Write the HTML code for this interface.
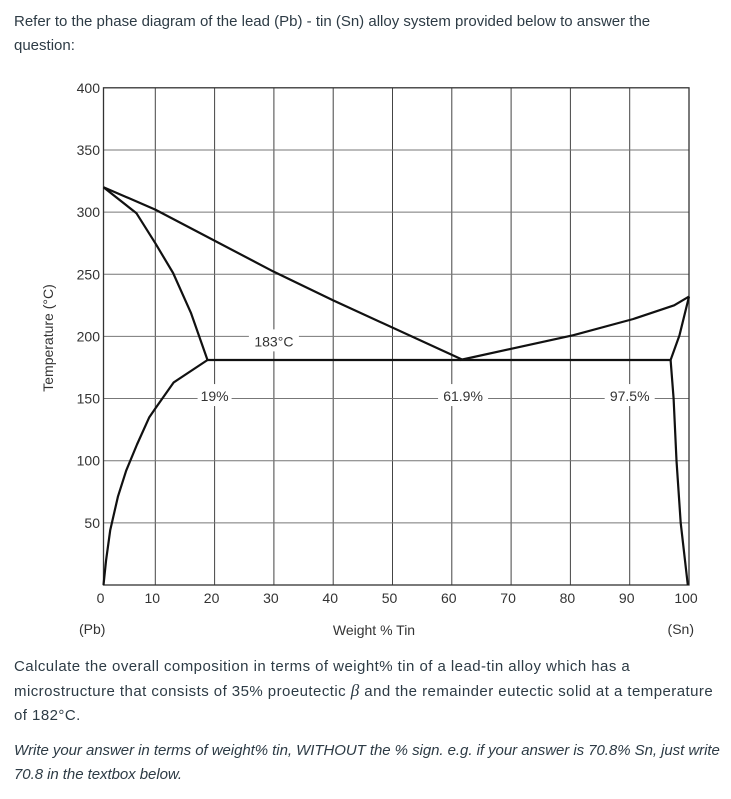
<!DOCTYPE html>
<html><head><meta charset="utf-8"><style>
body{margin:0;background:#fff;width:731px;height:799px;overflow:hidden;font-family:"Liberation Sans",sans-serif;color:#2d3b45;}
.p{position:absolute;left:14px;font-size:15px;line-height:24px;margin:0;white-space:nowrap;}
svg{position:absolute;left:0;top:0}
</style></head><body>
<p class="p" style="top:10px">Refer to the phase diagram of the lead (Pb) - tin (Sn) alloy system provided below to answer the<br>question:</p>
<svg id="chart" width="731" height="650"></svg>
<p class="p" style="top:655px;letter-spacing:0.45px">Calculate the overall composition in terms of weight% tin of a lead-tin alloy which has a<br>microstructure that consists of 35% proeutectic <i style="font-family:'Liberation Serif',serif;font-size:17px">β</i> and the remainder eutectic solid at a temperature<br>of 182°C.</p>
<p class="p" style="top:739px;font-style:italic;letter-spacing:-0.05px">Write your answer in terms of weight% tin, WITHOUT the % sign. e.g. if your answer is 70.8% Sn, just write<br>70.8 in the textbox below.</p>
<script>
const xTicks=[0,10,20,30,40,50,60,70,80,90,100];
const yTicks=[50,100,150,200,250,300,350,400];
const liquidusL=[[0,320],[10,302],[30,252],[40,229],[61.9,181]];
const solidusL=[[0,320],[6.4,299],[10,275],[13,251],[16,219],[18.8,181]];
const solvusL=[[18.8,181],[13.1,163],[10,142],[8.9,135],[6.5,113],[4.4,92],[2.8,71],[1.3,44],[0.5,20],[0,0]];
const liquidusR=[[61.4,181],[80.5,201],[90.6,214],[97.5,225],[100,232]];
const solidusR=[[100,232],[98.4,201],[96.9,181]];
const solvusR=[[96.9,181],[97.4,150],[97.9,100],[98.6,50],[99.8,0]];
const eutectic=[[18.8,181],[96.9,181]];
const annotations=[["183°C",30,196],["19%",20,152],["61.9%",61.9,152],["97.5%",90,152]];
const NS="http://www.w3.org/2000/svg";
const svg=document.getElementById('chart');
function X(v){return v<10?103.5+5.15*v:96+5.93*v;}
function Y(t){return 585-1.243*t;}
function mk(tag,a,parent){const e=document.createElementNS(NS,tag);for(const k in a)e.setAttribute(k,a[k]);(parent||svg).appendChild(e);return e;}
for(const v of xTicks){if(v===0||v===100)continue;
const g=mk('line',{x1:X(v),x2:X(v),y1:Y(400),y2:Y(0),stroke:'#444','stroke-width':1});

}
for(const t of yTicks){if(t===400)continue;
const g=mk('line',{x1:X(0),x2:X(100),y1:Y(t),y2:Y(t),stroke:'#777','stroke-width':1});

}
const fr=mk('rect',{x:X(0),y:Y(400),width:X(100)-X(0),height:Y(0)-Y(400),fill:'none',stroke:'#333','stroke-width':1.3});


for(const [txt,v,t] of annotations){
const w=txt.length*8+10;
mk('rect',{x:X(v)-w/2,y:Y(t)-12,width:w,height:22,fill:'#fff'});
const e=mk('text',{x:X(v),y:Y(t)+5,'text-anchor':'middle','font-size':14,fill:'#333'});
e.textContent=txt;

}
function curve(pts,name){const d=pts.map((p,i)=>(i?'L':'M')+X(p[0]).toFixed(1)+' '+Y(p[1]).toFixed(1)).join(' ');
const e=mk('path',{d:d,fill:'none',stroke:'#111','stroke-width':2.2,'stroke-linejoin':'round'});

}
curve(liquidusL,'liquidus-left');curve(solidusL,'solidus-left');curve(solvusL,'solvus-left');
curve(liquidusR,'liquidus-right');curve(solidusR,'solidus-right');curve(solvusR,'solvus-right');curve(eutectic,'eutectic-line');
for(const t of yTicks){
const e=mk('text',{x:100,y:Y(t)+5,'text-anchor':'end','font-size':14,fill:'#333'});
e.textContent=t;

}
for(const v of xTicks){
const e=mk('text',{x:X(v)-3,y:603,'text-anchor':'middle','font-size':14,fill:'#333'});
e.textContent=v;

}
let e=mk('text',{x:79,y:634,'text-anchor':'start','font-size':14,fill:'#333'});e.textContent='(Pb)';


e=mk('text',{x:694,y:634,'text-anchor':'end','font-size':14,fill:'#333'});e.textContent='(Sn)';


e=mk('text',{x:374,y:635,'text-anchor':'middle','font-size':14,fill:'#333'});e.textContent='Weight % Tin';


e=mk('text',{x:0,y:0,'text-anchor':'middle','font-size':14,fill:'#333',transform:'translate(53,338) rotate(-90)'});e.textContent='Temperature (°C)';


</script>
</body></html>
